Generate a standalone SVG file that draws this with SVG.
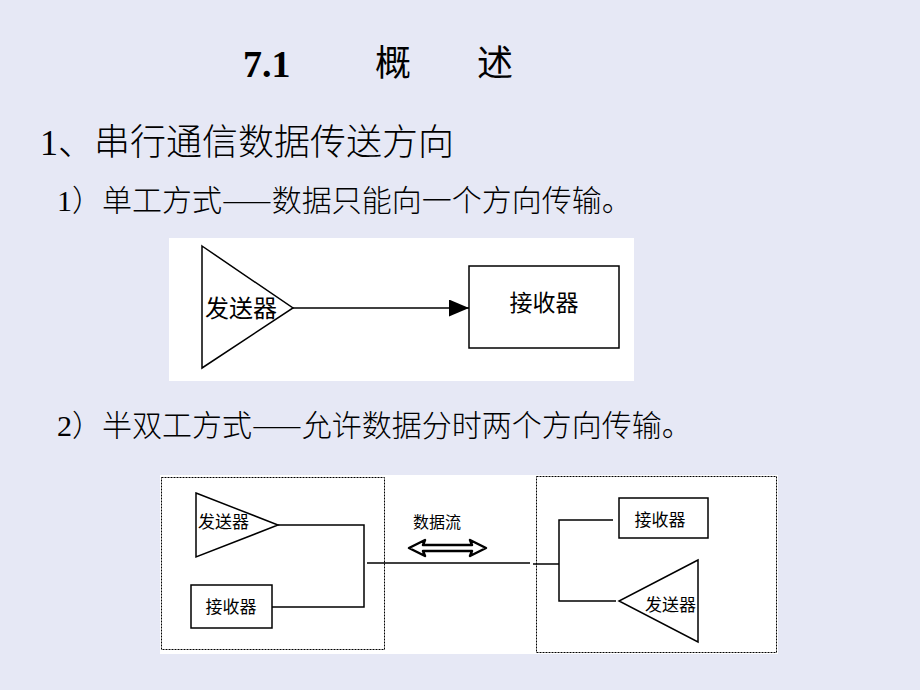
<svg xmlns="http://www.w3.org/2000/svg" width="920" height="690" viewBox="0 0 920 690">
<defs>
<style>
.t{font-family:"Liberation Serif","Noto Sans CJK SC",serif;fill:#000}
.c{font-family:"Noto Sans CJK SC",sans-serif;fill:#000;font-weight:300}
.s{fill:none;stroke:#000;stroke-width:1.5}
.n{fill:#fff;stroke:#000;stroke-width:1.5}
.d{fill:none;stroke:#000;stroke-width:1;stroke-dasharray:2 1}
</style>
<marker id="ah2" viewBox="0 0 20 17" refX="20" refY="8.5" markerWidth="20" markerHeight="17" markerUnits="userSpaceOnUse" orient="auto"><path d="M0,0 L20,8.5 L0,17 Z" fill="#000"/></marker>
</defs>
<rect width="920" height="690" fill="#E6E8F5"/>

<g id="title">
<text class="t" x="243" y="77" font-size="38" font-weight="bold">7.1</text>
<text class="c" x="375" y="76" font-size="36" style="font-weight:400">概</text>
<text class="c" x="477" y="76" font-size="36" style="font-weight:400">述</text>
</g>
<g id="heading">
<text class="t" x="40" y="155" font-size="36"><tspan>1</tspan><tspan class="c">、串行通信数据传送方向</tspan></text>
</g>
<g id="line1">
<text class="t" x="57" y="211" font-size="30"><tspan>1</tspan><tspan class="c">）单工方式——数据只能向一个方向传输。</tspan></text>
</g>
<g id="line2">
<text class="t" x="57" y="436" font-size="30"><tspan>2</tspan><tspan class="c">）半双工方式——允许数据分时两个方向传输。</tspan></text>
</g>

<!-- Diagram 1: simplex -->
<rect x="169" y="238" width="465" height="143" fill="#fff"/>
<g id="d1-sender">
<polygon class="n" points="202,246 293,308 202,368"/>
<text class="c" x="205" y="317" font-size="24" style="font-weight:400">发送器</text>
</g>
<g id="d1-receiver">
<rect class="n" x="469" y="266" width="150" height="82"/>
<text class="c" x="544" y="311" font-size="23" text-anchor="middle" style="font-weight:400">接收器</text>
</g>
<g id="d1-connectors">
<line class="s" x1="293" y1="308" x2="469" y2="308" marker-end="url(#ah2)"/>
</g>

<!-- Diagram 2: half duplex -->
<rect x="160" y="475" width="618" height="179" fill="#fff"/>
<rect class="d" x="161.5" y="477.5" width="223" height="172"/>
<rect class="d" x="536.5" y="476.5" width="240" height="176"/>

<g id="d2-left-sender">
<polygon class="n" points="196,493 278,525 196,557"/>
<text class="c" x="198" y="528" font-size="17" style="font-weight:400">发送器</text>
</g>
<g id="d2-left-receiver">
<rect class="n" x="191" y="585" width="81" height="43"/>
<text class="c" x="231" y="613" font-size="17" text-anchor="middle" style="font-weight:400">接收器</text>
</g>
<g id="d2-right-receiver">
<rect class="n" x="619" y="498" width="89" height="40"/>
<text class="c" x="660" y="526" font-size="17" text-anchor="middle" style="font-weight:400">接收器</text>
</g>
<g id="d2-right-sender">
<polygon class="n" points="698,560 619,601 698,642"/>
<text class="c" x="645" y="611" font-size="17" style="font-weight:400">发送器</text>
</g>
<g id="d2-dataflow">
<text class="c" x="437" y="528" font-size="16" text-anchor="middle" style="font-weight:400">数据流</text>
<polygon points="409,548 425,540 423,545 472,545 470,540 486,548 470,556 472,551 423,551 425,556" fill="#fff" stroke="#000" stroke-width="2.5" stroke-linejoin="round"/>
</g>
<g id="d2-connectors">
<polyline class="s" points="278,525 364,525 364,607 272,607"/>
<line class="s" x1="367" y1="563" x2="530" y2="563"/>
<line class="s" x1="533" y1="564" x2="559" y2="564"/>
<polyline class="s" points="613,520 559,520 559,601 616,601"/>
</g>
</svg>
